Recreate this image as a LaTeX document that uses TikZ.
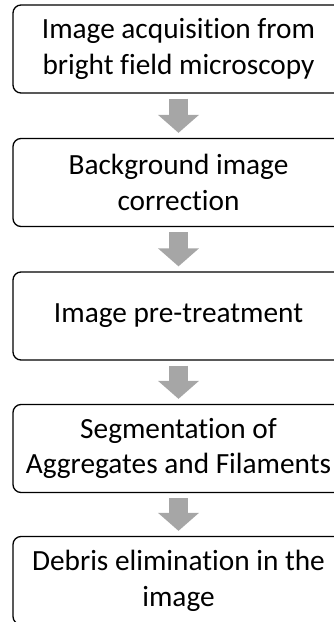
\documentclass[tikz,border=0pt]{standalone}
\usepackage{fontspec}
\setmainfont[Ligatures={NoCommon}]{Carlito}
\usetikzlibrary{arrows.meta}
\definecolor{arrowgray}{HTML}{A6A6A6}
\tikzset{
  stepbox/.style={draw=black, line width=1.3pt, rounded corners=8pt,
    minimum width=331pt, minimum height=88pt, inner sep=0pt,
    align=center, font=\fontsize{29.3}{35.8}\selectfont},
  blockarrow/.style={draw=arrowgray, line width=19pt, line cap=butt,
    -{Triangle[length=18pt,width=40pt]}, arrowgray},
}
\begin{document}
\begin{tikzpicture}[x=1pt,y=-1pt]
\useasboundingbox (0,0) rectangle (334,622);
\clip (0,0) rectangle (334,622);
\node[stepbox] (b1) at (178.5,49) {Image acquisition from\\bright field microscopy};
\node[stepbox] (b2) at (178.5,182.5) {Background image\\correction};
\node[stepbox] (b3) at (178.5,316) {Image pre-treatment};
\node[stepbox] (b4) at (178.5,448.5) {Segmentation of\\Aggregates and Filaments};
\node[stepbox] (b5) at (178.5,580.5) {Debris elimination in the\\image};
\draw[blockarrow] ([yshift=-5pt]b1.south) -- ([yshift=5pt]b2.north);
\draw[blockarrow] ([yshift=-5pt]b2.south) -- ([yshift=5pt]b3.north);
\draw[blockarrow] ([yshift=-5pt]b3.south) -- ([yshift=5pt]b4.north);
\draw[blockarrow] ([yshift=-5pt]b4.south) -- ([yshift=5pt]b5.north);
\end{tikzpicture}
\end{document}
